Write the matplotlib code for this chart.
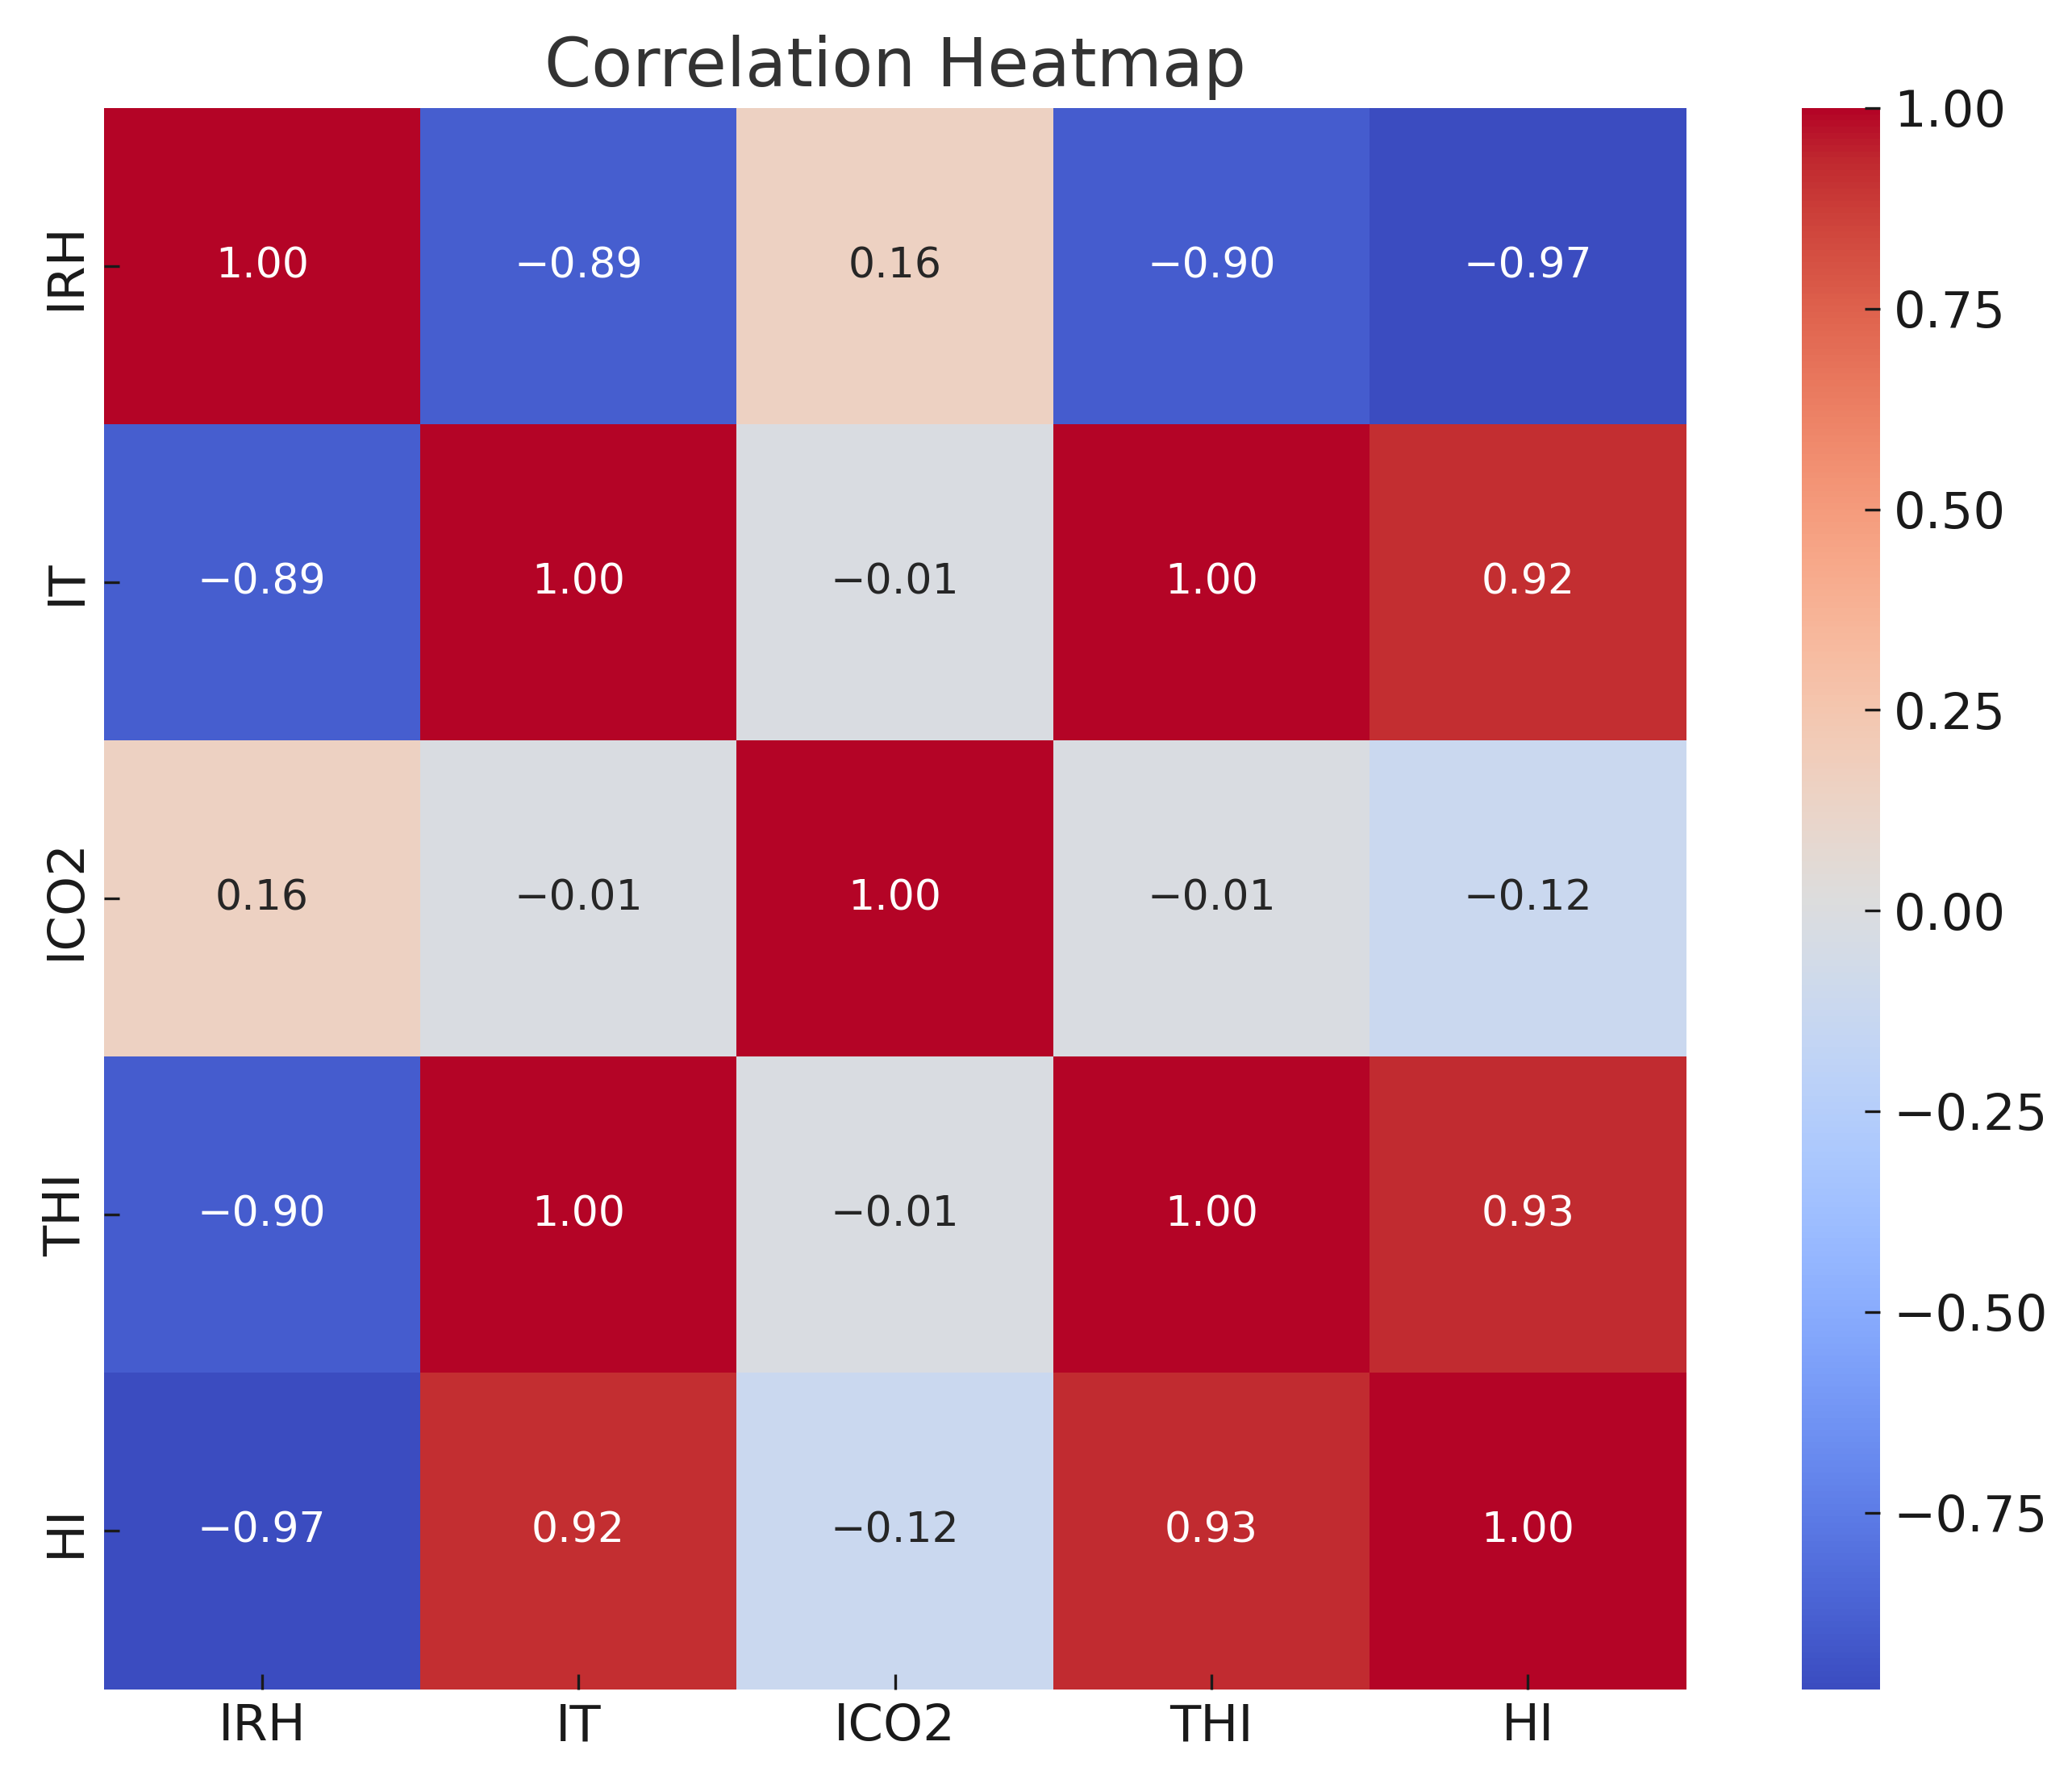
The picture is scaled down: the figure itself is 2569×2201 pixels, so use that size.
import numpy as np
import matplotlib
matplotlib.use("Agg")
import matplotlib.pyplot as plt
import seaborn as sns

labels = ["IRH", "IT", "ICO2", "THI", "HI"]
row_irh = [1.00, -0.89, 0.16, -0.90, -0.97]
row_it = [-0.89, 1.00, -0.01, 1.00, 0.92]
row_ico2 = [0.16, -0.01, 1.00, -0.01, -0.12]
row_thi = [-0.90, 1.00, -0.01, 1.00, 0.93]
row_hi = [-0.97, 0.92, -0.12, 0.93, 1.00]
cbar_ticks = [-0.75, -0.50, -0.25, 0.00, 0.25, 0.50, 0.75, 1.00]

corr = np.array([row_irh, row_it, row_ico2, row_thi, row_hi])
annot_text = np.array([[f"{v:.2f}".replace("-", "\u2212") for v in row] for row in corr])

W, H = 2569, 2201
dpi = 300
fig = plt.figure(figsize=(W / dpi, H / dpi), dpi=dpi)

def rect(l, t, r, b):
    return [l / W, 1 - b / H, (r - l) / W, (b - t) / H]

ax = fig.add_axes(rect(128.6, 134, 2090.5, 2094.5))
cax = fig.add_axes(rect(2233.6, 134, 2331, 2094.5))

sns.heatmap(corr, annot=annot_text, fmt="", cmap="coolwarm", ax=ax, cbar_ax=cax,
            xticklabels=labels, yticklabels=labels,
            annot_kws={"fontsize": 12.5})

ax.set_title("Correlation Heatmap", fontsize=20, color="#333333", pad=6.5)
ax.tick_params(axis="both", direction="in", length=4.5, width=0.8,
               labelsize=15, colors="#1a1a1a", pad=4)
for lbl in ax.get_yticklabels():
    lbl.set_rotation(90)
    lbl.set_va("center")
for lbl in ax.get_xticklabels():
    lbl.set_rotation(0)

cb = ax.collections[0].colorbar
cb.set_ticks(cbar_ticks)
cb.ax.tick_params(direction="in", length=4.5, width=0.8, labelsize=15,
                  colors="#1a1a1a", pad=4)
cb.outline.set_visible(False)

fig.savefig("out.png", dpi=dpi)
